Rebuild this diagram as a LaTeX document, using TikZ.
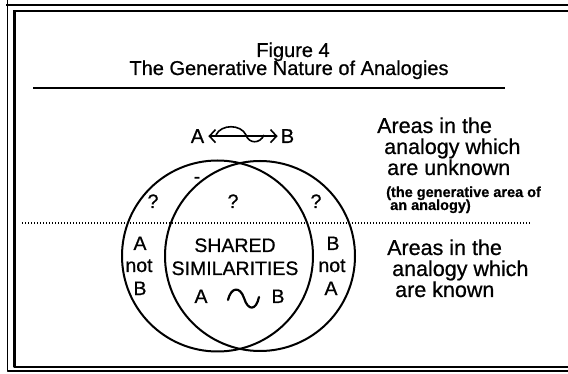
\documentclass[tikz,border=0pt]{standalone}
\usepackage{fontspec}
\setmainfont{Liberation Sans}[FakeBold=0.7]
\usetikzlibrary{arrows.meta}

\begin{document}
\begin{tikzpicture}[x=1pt,y=-1pt,line join=round,
    heading/.style={inner sep=0pt,anchor=base,font=\fontsize{20}{20}\selectfont},
    lbl/.style={inner sep=0pt,anchor=base,font=\fontsize{19.5}{20}\selectfont},
    side/.style={inner sep=0pt,anchor=base west,font=\fontsize{21.5}{22}\selectfont},
    note/.style={inner sep=0pt,anchor=base west,font=\fontsize{14.5}{15}\selectfont\bfseries},
    set/.style={circle,draw,line width=2pt,inner sep=0pt},
    barb/.tip={Straight Barb[length=6pt,width=13pt]}]
    \useasboundingbox (0,0) rectangle (568,374);
    \clip (0,0) rectangle (568,374);

    % frame
    \draw[line width=1.2pt] (7.5,0)--(7.5,371)--(600,371);
    \draw[line width=2.6pt] (6.2,5)--(600,5);
    \draw[line width=2.6pt] (14.5,11)--(14.5,367)--(600,367);
    \draw[line width=1.2pt] (13.2,11)--(600,11);

    % title
    \node[heading] (fig) at (293,57) {Figure 4};
    \node[heading] (title) at (289,75) {The Generative Nature of Analogies};
    \draw[line width=2pt] (33,88) -- (505,88);

    % unknown / known split
    \draw[line width=1.5pt,dash pattern=on 1.2pt off 1.8pt] (22,223) -- (530,223);

    \node[set,minimum size=191pt] (setA) at (217.5,256) {};
    \node[set,minimum size=190pt] (setB) at (260,256) {};

    % A <-> B
    \node[heading] (topA) at (197.5,143) {A};
    \node[heading] (topB) at (287.5,143) {B};
    \draw[line width=1.6pt,barb-barb,shorten <=4pt,shorten >=3pt] (topA) -- (topB);
    \draw[line width=1.6pt] (216,135) .. controls (221,124) and (241,124) .. (246,135)
        .. controls (249,144) and (260,144) .. (264,135);

    \node[lbl] (qA) at (153,208) {?};
    \node[lbl] (qAB) at (233,208) {?};
    \node[lbl] (qB) at (316,208) {?};
    \node[lbl] (mark) at (197,183) {-};

    \node[lbl] (onlyA1) at (140,250) {A};
    \node[lbl] (onlyA2) at (139,272) {not};
    \node[lbl] (onlyA3) at (140,295) {B};
    \node[lbl] (onlyB1) at (333,250) {B};
    \node[lbl] (onlyB2) at (332,272) {not};
    \node[lbl] (onlyB3) at (331,295) {A};

    \node[lbl] (shared) at (235,252) {SHARED};
    \node[lbl] (simil) at (235,275) {SIMILARITIES};
    \node[lbl] (simA) at (201,303) {A};
    \node[lbl] (simB) at (278,303) {B};
    \draw[line width=2.2pt,line cap=round] (228,300) .. controls (231,287) and (240,286) .. (244,298)
        .. controls (248,311) and (256,311) .. (259,297);

    % right hand notes
    \node[side] (unk1) at (377,133) {Areas in the};
    \node[side] (unk2) at (384,154) {analogy which};
    \node[side] (unk3) at (387,175) {are unknown};
    \node[note] (gen1) at (386,197) {(the generative area of};
    \node[note] (gen2) at (390,210) {an analogy)};
    \node[side] (kn1) at (387,255) {Areas in the};
    \node[side] (kn2) at (392,276) {analogy which};
    \node[side] (kn3) at (395,297) {are known};
\end{tikzpicture}
\end{document}
